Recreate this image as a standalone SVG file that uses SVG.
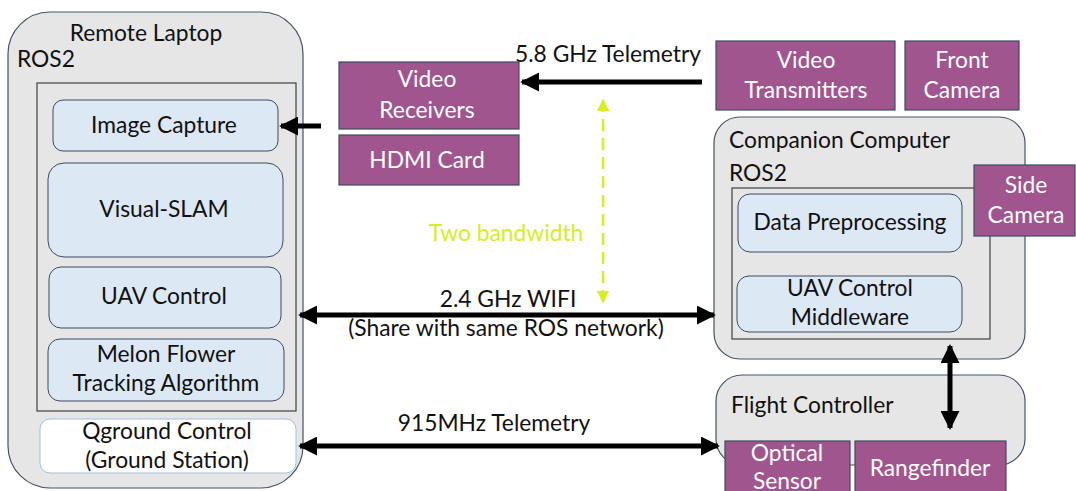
<svg xmlns="http://www.w3.org/2000/svg" width="1076" height="491" viewBox="0 0 1076 491">
<style>
text{font-family:Lato,"Open Sans","Liberation Sans",sans-serif;font-size:22.8px;fill:#111}
.c{text-anchor:middle}
.w{fill:#fff}
.outer{fill:#e6e6e6;stroke:#44546a;stroke-width:1.2}
.inner{fill:#e6e6e6;stroke:#404040;stroke-width:1.2}
.mod{fill:#dde8f5;stroke:#3b4b63;stroke-width:1}
.hw{fill:#a0558f;stroke:#3b4b63;stroke-width:1.2}
.ln{stroke:#000;stroke-width:5;fill:none}
</style>
<defs>
<marker id="ah" viewBox="0 0 10 10" refX="9" refY="5" markerWidth="3.8" markerHeight="3.8" orient="auto-start-reverse" markerUnits="strokeWidth"><path d="M0,0 L10,5 L0,10 z" fill="#000"/></marker>
<marker id="ay" viewBox="0 0 10 10" refX="9" refY="5" markerWidth="5" markerHeight="5" orient="auto-start-reverse" markerUnits="strokeWidth"><path d="M0,0 L10,5 L0,10 z" fill="#d6ee22"/></marker>
</defs>
<rect width="1076" height="491" fill="#fff"/>
<g id="laptop">
<rect class="outer" x="8" y="12" width="295" height="476" rx="42"/>
<text class="c" x="146" y="41">Remote Laptop</text>
<text x="17" y="67">ROS2</text>
<rect class="inner" x="37" y="83" width="259" height="328"/>
</g>
<g id="image-capture"><rect class="mod" x="53" y="100" width="225" height="51" rx="10"/><text class="c" x="164" y="133">Image Capture</text></g>
<g id="visual-slam"><rect class="mod" x="48" y="163" width="235" height="94" rx="16"/><text class="c" x="164" y="217">Visual-SLAM</text></g>
<g id="uav-control"><rect class="mod" x="49" y="267" width="232" height="61" rx="12"/><text class="c" x="164" y="304">UAV Control</text></g>
<g id="melon"><rect class="mod" x="48" y="339" width="236" height="62" rx="12"/><text class="c" x="166" y="362">Melon Flower</text><text class="c" x="166" y="391">Tracking Algorithm</text></g>
<g id="qground"><rect x="40" y="419" width="256" height="54" rx="10" fill="#fff" stroke="#9dc3e6" stroke-width="1"/><text class="c" x="167" y="439">Qground Control</text><text class="c" x="167" y="468">(Ground Station)</text></g>
<g id="video-receivers"><rect class="hw" x="339" y="62" width="180" height="67"/><text class="c w" x="427" y="87">Video</text><text class="c w" x="427" y="118">Receivers</text></g>
<g id="hdmi"><rect class="hw" x="339" y="135" width="180" height="50"/><text class="c w" x="427" y="168">HDMI Card</text></g>
<g id="video-transmitters"><rect class="hw" x="716" y="41" width="179" height="69"/><text class="c w" x="806" y="68">Video</text><text class="c w" x="806" y="98">Transmitters</text></g>
<g id="front-camera"><rect class="hw" x="905" y="41" width="114" height="69"/><text class="c w" x="962" y="68">Front</text><text class="c w" x="962" y="98">Camera</text></g>
<g id="companion">
<rect class="outer" x="714" y="117" width="311" height="242" rx="26"/>
<text x="729" y="148">Companion Computer</text>
<text x="729" y="181">ROS2</text>
<rect class="inner" x="732" y="188" width="258" height="151"/>
</g>
<g id="data-prep"><rect class="mod" x="738" y="194" width="224" height="58" rx="12"/><text class="c" x="850" y="230">Data Preprocessing</text></g>
<g id="uav-mw"><rect class="mod" x="737" y="276" width="225" height="56" rx="12"/><text class="c" x="850" y="296">UAV Control</text><text class="c" x="850" y="325">Middleware</text></g>
<g id="side-camera"><rect class="hw" x="974" y="165" width="101" height="71"/><text class="c w" x="1026" y="193">Side</text><text class="c w" x="1026" y="223">Camera</text></g>
<g id="flight-controller"><rect class="outer" x="716" y="375" width="309" height="90" rx="26"/><text x="731" y="413">Flight Controller</text></g>
<g id="optical"><rect class="hw" x="725" y="441" width="125" height="55"/><text class="c w" x="787" y="461">Optical</text><text class="c w" x="787" y="489">Sensor</text></g>
<g id="rangefinder"><rect class="hw" x="855" y="441" width="151" height="55"/><text class="c w" x="930" y="476">Rangefinder</text></g>
<g id="connectors">
<line class="ln" x1="702" y1="82" x2="522" y2="82" marker-end="url(#ah)"/>
<line class="ln" x1="321" y1="126" x2="281" y2="126" marker-end="url(#ah)"/>
<line class="ln" x1="300" y1="315" x2="714" y2="315" marker-start="url(#ah)" marker-end="url(#ah)"/>
<line class="ln" x1="300" y1="446" x2="718" y2="446" marker-start="url(#ah)" marker-end="url(#ah)"/>
<line class="ln" x1="950" y1="346" x2="950" y2="428" marker-start="url(#ah)" marker-end="url(#ah)"/>
<line x1="603" y1="100" x2="603" y2="302" stroke="#d6ee22" stroke-width="2.5" stroke-dasharray="12,7" marker-start="url(#ay)" marker-end="url(#ay)"/>
<text x="515" y="62">5.8 GHz Telemetry</text>
<text class="c" x="506" y="241" style="fill:#d6ee22">Two bandwidth</text>
<text class="c" x="508" y="307">2.4 GHz WIFI</text>
<text class="c" x="506" y="336">(Share with same ROS network)</text>
<text class="c" x="494" y="431">915MHz Telemetry</text>
</g>
</svg>
